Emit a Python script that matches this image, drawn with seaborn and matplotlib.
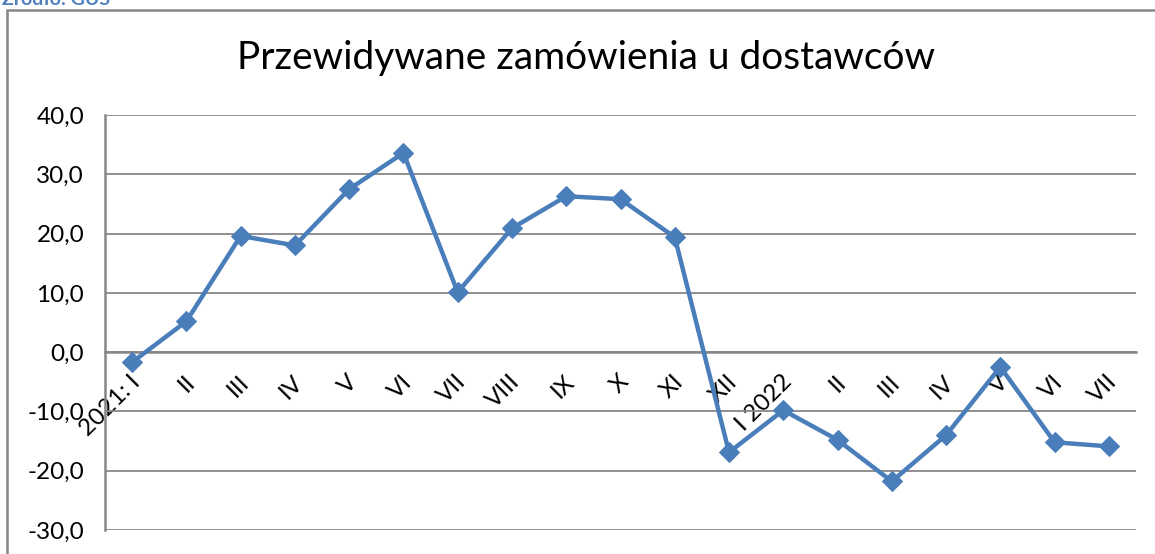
import numpy as np
import pandas as pd
import matplotlib
matplotlib.use('Agg')
import matplotlib.pyplot as plt
import matplotlib.transforms as mtransforms
from matplotlib.patches import Rectangle
import seaborn as sns

# Data
months = ['2021: I', 'II', 'III', 'IV', 'V', 'VI', 'VII', 'VIII', 'IX', 'X', 'XI', 'XII',
          'I 2022', 'II', 'III', 'IV', 'V', 'VI', 'VII']
values = [-1.7, 5.2, 19.6, 18.0, 27.5, 33.6, 10.1, 20.9, 26.3, 25.8, 19.4, -16.9,
          -9.8, -14.8, -21.8, -14.0, -2.5, -15.2, -15.9]
y_ticks = [-30, -20, -10, 0, 10, 20, 30, 40]

title = 'Przewidywane zamówienia u dostawców'
source = 'Źródło: GUS'

line_color = '#4A7EBB'
grey = '#878787'

sns.set_style('white')
plt.rcParams['font.family'] = ['Lato', 'DejaVu Sans']
plt.rcParams['text.color'] = 'black'
plt.rcParams['xtick.labelcolor'] = 'black'
plt.rcParams['ytick.labelcolor'] = 'black'

df = pd.DataFrame({'pos': np.arange(len(months)), 'value': values})

fig = plt.figure(figsize=(11.55, 5.54), dpi=100)
ax = fig.add_axes([105 / 1155, 1 - 530 / 554, (1136 - 105) / 1155, (530 - 115) / 554])

sns.lineplot(data=df, x='pos', y='value', ax=ax, color=line_color, linewidth=3.2,
             marker='D', markersize=10.5, markeredgecolor=line_color, zorder=5)

# axes limits and grid
ax.set_xlim(-0.5, len(months) - 0.5)
ax.set_ylim(-30, 40)
ax.set_yticks(y_ticks)
ax.set_yticklabels([f'{v:.1f}'.replace('.', ',') for v in y_ticks], fontsize=17.5)
ax.yaxis.grid(True, color=grey, linewidth=1.3)
ax.set_axisbelow(True)

for side in ['top', 'right']:
    ax.spines[side].set_visible(False)
ax.spines['left'].set_color(grey)
ax.spines['left'].set_linewidth(1.8)
ax.spines['bottom'].set_position(('data', 0))
ax.spines['bottom'].set_color(grey)
ax.spines['bottom'].set_linewidth(1.8)

# tick marks at category boundaries, labels at centres
ax.set_xticks(np.arange(-0.5, len(months), 1))
ax.set_xticklabels([])
ax.set_xticks(np.arange(len(months)), minor=True)
ax.set_xticklabels(months, minor=True, rotation=45, ha='right', va='center',
                   rotation_mode='anchor', fontsize=17.5)
ax.tick_params(axis='x', which='major', direction='out', length=5, width=1.5, color=grey)
ax.tick_params(axis='x', which='minor', length=0, pad=19)
ax.tick_params(axis='y', direction='out', length=6, width=1.5, color=grey, pad=9)
offset = mtransforms.ScaledTranslation(5 / 100, 0, fig.dpi_scale_trans)
for lbl in ax.xaxis.get_minorticklabels():
    lbl.set_transform(lbl.get_transform() + offset)

ax.set_xlabel('')
ax.set_ylabel('')

fig.text(586 / 1155, 1 - 58 / 554, title, ha='center', va='center', fontsize=28)

# chart frame and source note
fig.add_artist(Rectangle((7 / 1155, -0.02), 1.0, 1 - 10 / 554 + 0.02,
                         transform=fig.transFigure, fill=False,
                         edgecolor=grey, linewidth=1.8))
fig.text(0.002, 1 - 5 / 554, source, ha='left', va='baseline', fontsize=14,
         fontweight='bold', color='#4F81BD')

fig.savefig('out.png', dpi=100)
